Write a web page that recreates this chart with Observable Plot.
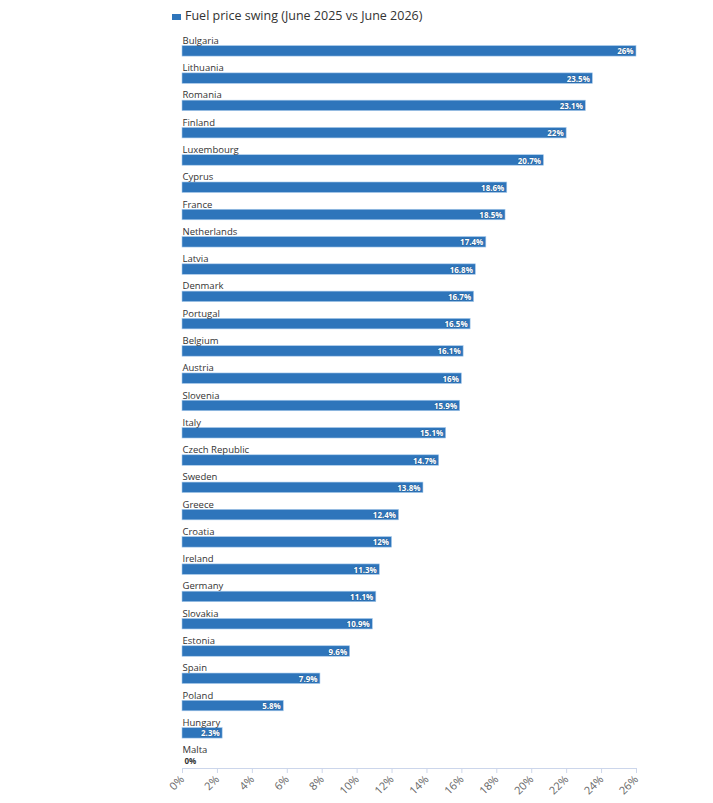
<!DOCTYPE html>
<html>
<head>
<meta charset="utf-8">
<script src="https://cdn.jsdelivr.net/npm/d3@7"></script>
<script src="https://cdn.jsdelivr.net/npm/@observablehq/plot@0.6"></script>
<style>
  html, body { margin: 0; padding: 0; background: #fff; }
  body { width: 713px; font-family: "Open Sans", sans-serif; }
  .legend { height: 30px; position: relative; }
  .legend .sw { position: absolute; left: 172px; top: 14px; width: 9px; height: 6px; background: #2e75bb; }
  .legend .lb { position: absolute; left: 185px; top: 7px; font-size: 12.5px; color: #333; white-space: nowrap; }
  #chart svg { display: block; }
</style>
</head>
<body>
<div class="legend"><span class="sw"></span><span class="lb">Fuel price swing (June 2025 vs June 2026)</span></div>
<div id="chart"></div>
<script>
const countries = ["Bulgaria", "Lithuania", "Romania", "Finland", "Luxembourg", "Cyprus", "France",
  "Netherlands", "Latvia", "Denmark", "Portugal", "Belgium", "Austria", "Slovenia", "Italy",
  "Czech Republic", "Sweden", "Greece", "Croatia", "Ireland", "Germany", "Slovakia", "Estonia",
  "Spain", "Poland", "Hungary", "Malta"];
const swing = [26, 23.5, 23.1, 22, 20.7, 18.6, 18.5, 17.4, 16.8, 16.7, 16.5, 16.1, 16, 15.9, 15.1,
  14.7, 13.8, 12.4, 12, 11.3, 11.1, 10.9, 9.6, 7.9, 5.8, 2.3, 0];
const xTicks = [0, 2, 4, 6, 8, 10, 12, 14, 16, 18, 20, 22, 24, 26];

const rows = countries.map((country, i) => ({country, value: swing[i]}));

const barColor = "#2e75bb";
const step = 27.28;     // row pitch
const barH = 10.5;      // bar thickness
const bandTop = 7.2;

const chart = Plot.plot({
  width: 713,
  height: 773,
  marginLeft: 182,
  marginRight: 77,
  marginTop: 0,
  marginBottom: 35,
  style: {fontFamily: "Open Sans, sans-serif", background: "#fff"},
  x: {domain: [0, 26], label: null},
  y: {
    type: "band", domain: countries, round: false, padding: 0, axis: null,
    range: [bandTop, bandTop + step * countries.length]
  },
  marks: [
    Plot.barX(rows, {
      x: "value", y: "country", fill: barColor,
      stroke: "#a9cbec", strokeWidth: 0.6,
      insetTop: (step - barH) / 2, insetBottom: (step - barH) / 2
    }),
    // country names sit just above each bar
    Plot.text(rows, {
      x: 0, y: "country", text: "country", textAnchor: "start", dy: -10.5,
      fill: "#333", fontSize: 9.5
    }),
    // value labels inside the end of each bar
    Plot.text(rows.filter(d => d.value > 0), {
      x: "value", y: "country", text: d => `${d.value}%`, textAnchor: "end", dx: -3, dy: 0.5,
      fill: "#fff", stroke: "#1a3d60", strokeWidth: 1.2, strokeOpacity: 0.35,
      fontSize: 8, fontWeight: "bold"
    }),
    Plot.text(rows.filter(d => d.value === 0), {
      x: "value", y: "country", text: d => `${d.value}%`, textAnchor: "start", dx: 2, dy: 0.5,
      fill: "#333", stroke: "#fff", strokeWidth: 1.5,
      fontSize: 8, fontWeight: "bold"
    }),
    Plot.frame({anchor: "bottom", stroke: "#ccd6eb"}),
    // tick marks
    Plot.axisX({ticks: xTicks, tickSize: 5, stroke: "#ccd6eb", text: null, label: null}),
    // rotated tick labels
    Plot.axisX({
      ticks: xTicks, tickFormat: d => `${d}%`, tickSize: 0, tickPadding: 9,
      tickRotate: -45, fill: "#666", fontSize: 11, label: null
    })
  ]
});
document.getElementById("chart").appendChild(chart);
</script>
</body>
</html>
